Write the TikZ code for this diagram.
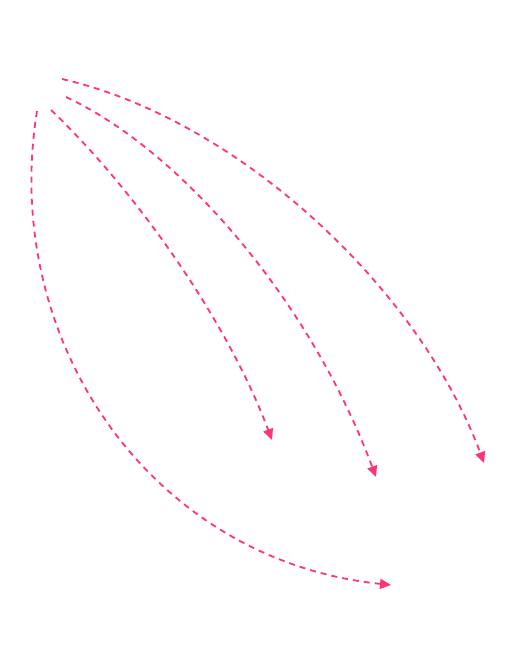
\documentclass[tikz,border=0pt]{standalone}
\usetikzlibrary{arrows.meta}
\definecolor{flowpink}{RGB}{255,51,119}
\tikzset{
  flow/.style={draw=flowpink, line width=1.8pt, dash pattern=on 6pt off 5pt,
    -{Triangle[length=11pt,width=10pt,fill=flowpink]}, shorten >=0pt}
}
\begin{document}
\begin{tikzpicture}[x=1pt,y=-1pt]
\useasboundingbox (0,0) rectangle (508,653);
\coordinate (a0) at (62,79);
\coordinate (a1) at (484,463);
\coordinate (b0) at (66,97);
\coordinate (b1) at (376,477);
\coordinate (c0) at (51,110);
\coordinate (c1) at (272,440);
\coordinate (d0) at (37,111);
\coordinate (d1) at (391,585);
\draw[flow] (a0) .. controls (240,120) and (420,290) .. (a1);
\draw[flow] (b0) .. controls (180,150) and (310,300) .. (b1);
\draw[flow] (c0) .. controls (130,185) and (225,315) .. (c1);
\draw[flow] (d0) .. controls (0,340) and (150,560) .. (d1);
\end{tikzpicture}
\end{document}
